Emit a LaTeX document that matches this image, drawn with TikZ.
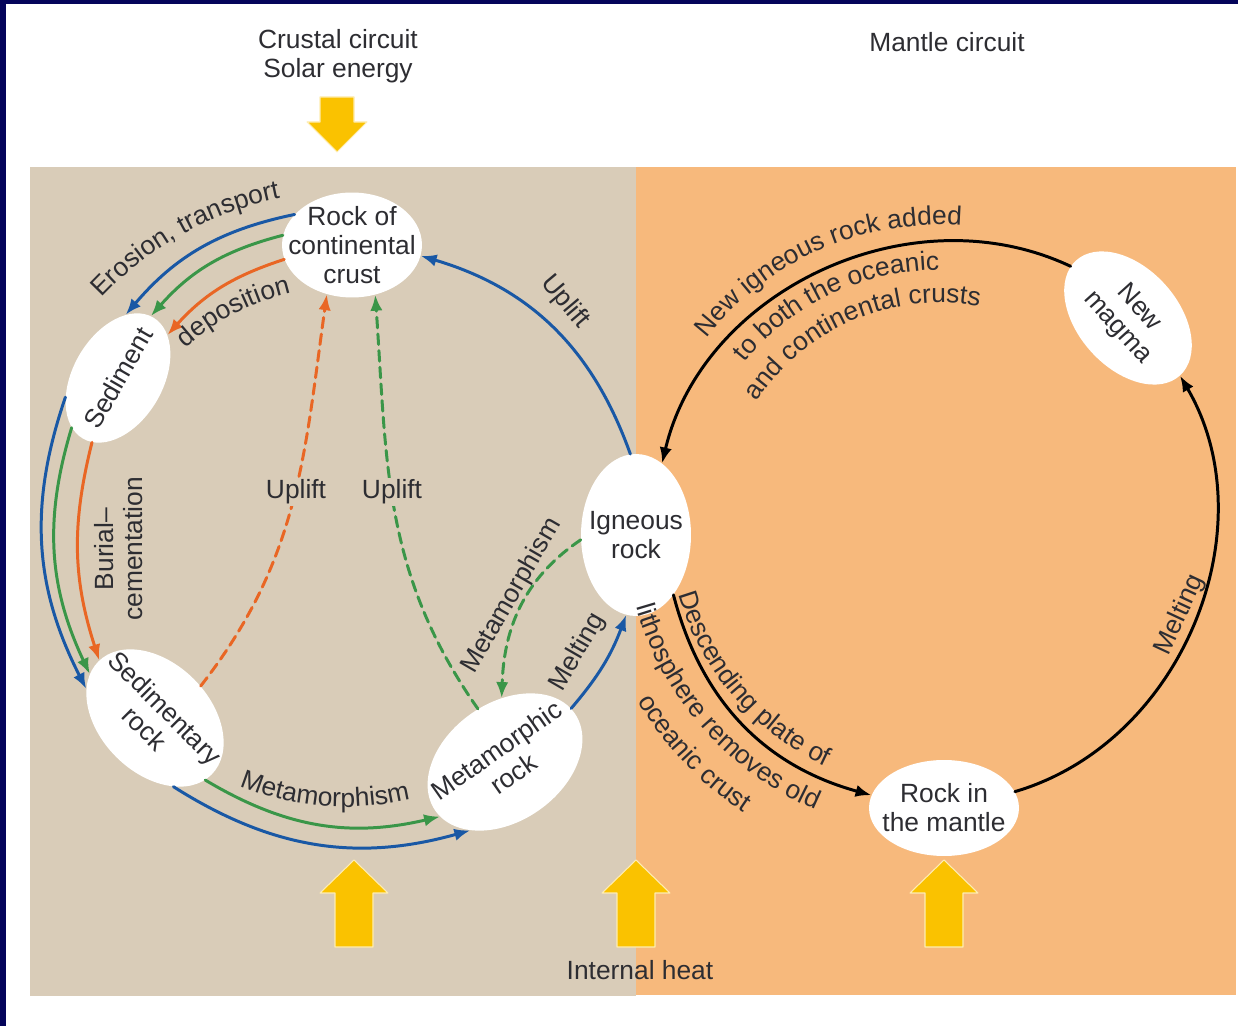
\documentclass[tikz,border=0pt]{standalone}
\usepackage{fontspec}
\setmainfont{Liberation Sans}
\usetikzlibrary{shapes.geometric,arrows.meta,decorations.text}
\definecolor{navy}{RGB}{4,4,90}
\definecolor{sand}{RGB}{217,204,184}
\definecolor{peach}{RGB}{247,185,124}
\definecolor{heat}{RGB}{250,194,0}
\definecolor{rblue}{RGB}{25,88,165}
\definecolor{rgreen}{RGB}{58,150,72}
\definecolor{rorange}{RGB}{233,102,36}
\definecolor{ink}{RGB}{45,45,50}
\newcommand{\lbl}{\fontsize{15}{16.5}\selectfont\color{ink}}
\tikzset{
  rock/.style={ellipse, fill=white, inner sep=0pt},
  flow/.style={line width=1.7pt, -{Latex[length=9pt,width=7pt]}},
  dflow/.style={flow, dash pattern=on 6pt off 3.5pt},
  heatarrow/.style={fill=heat, draw=white!70!heat, line width=0.6pt},
  lab/.style={text=ink, inner sep=1pt, align=center},
  curvelab/.style={decorate, decoration={text along path}},
}
\begin{document}
\begin{tikzpicture}[x=0.02cm, y=0.02cm, font=\fontsize{15}{16.5}\selectfont, line join=round, line cap=round]
	% Frame and the two panels
	\fill[navy] (0,0) rectangle (1238,-1026);
	\fill[white] (6,-4) rectangle (1238,-1026);
	\fill[sand] (30,-167) rectangle (636,-996);
	\fill[peach] (636,-167) rectangle (1236,-995);
	\useasboundingbox (0,0) rectangle (1238,-1026);
	% Headings
	\node[lab] (crustal) at (338,-56) {Crustal circuit\\Solar energy};
	\node[lab] (mantlec) at (947,-42) {Mantle circuit};
	\node[lab] (heat) at (640,-970) {Internal heat};
	% Energy arrows
	\fill[heatarrow] (320,-97) -- (354,-97) -- (354,-122) -- (367,-122) -- (337,-152) -- (307,-122) -- (320,-122) -- cycle;
	\foreach \x in {354,636,944}{\fill[heatarrow] (\x-19,-947) -- (\x+19,-947) -- (\x+19,-893) -- (\x+34,-893) -- (\x,-860) -- (\x-34,-893) -- (\x-19,-893) -- cycle;}
	% Rocks
	\node[rock, minimum width=2.8cm, minimum height=2.1cm] (crust) at (352,-245) {};
	\node[rock, rotate=60, minimum width=2.8cm, minimum height=1.8cm] (sed) at (118,-378) {};
	\node[rock, rotate=-45, minimum width=3.2cm, minimum height=2.2cm] (sedrock) at (155,-718) {};
	\node[rock, rotate=35, minimum width=3.4cm, minimum height=2.36cm] (meta) at (505,-762) {};
	\node[rock, minimum width=2.2cm, minimum height=3.24cm] (ign) at (636,-535) {};
	\node[rock, rotate=-48, minimum width=3.1cm, minimum height=2cm] (magma) at (1128,-318) {};
	\node[rock, minimum width=3cm, minimum height=1.92cm] (mantle) at (944,-808) {};
	\node[lab] at (crust) {Rock of\\continental\\crust};
	\node[lab, rotate=60] at (sed) {Sediment};
	\node[lab, rotate=-45] at (sedrock) {Sedimentary\\rock};
	\node[lab, rotate=35] at (meta) {Metamorphic\\rock};
	\node[lab] at (ign) {Igneous\\rock};
	\node[lab, rotate=-48] at (magma) {New\\magma};
	\node[lab] at (mantle) {Rock in\\the mantle};
	% Crustal circuit
	\draw[flow, rblue] (crust.152) to[bend right=19] (sed.23);
	\draw[flow, rgreen] (crust.172) to[bend right=17] (sed.2);
	\draw[flow, rorange] (crust.192) to[bend right=15] (sed.341);
	\draw[flow, rblue] (sed.140) to[bend right=23] (sedrock.202);
	\draw[flow, rgreen] (sed.167) to[bend right=21] (sedrock.191);
	\draw[flow, rorange] (sed.188) to[bend right=16] (sedrock.179);
	\draw[flow, rblue] (sedrock.330) to[bend right=24] (meta.208);
	\draw[flow, rgreen] (sedrock.354) to[bend right=22] (meta.185);
	\draw[flow, rblue] (meta.4) to[bend right=10] (ign.263);
	\draw[flow, rblue] (ign.94) to[bend right=27] (crust.351);
	\draw[dflow, rgreen] (ign.185) to[out=214, in=88] (meta.58);
	\draw[dflow, rorange] (sedrock.80) to[out=52, in=-98] (crust.243);
	\draw[dflow, rgreen] (meta.82) to[out=125, in=-86] (crust.295);
	% Mantle circuit
	\draw[flow, black] (magma.186) to[bend right=51] (ign.70);
	\draw[flow, black] (mantle.13) to[bend right=52] (magma.0);
	\draw[flow, black] (ign.302) to[bend right=30] (mantle.170);
	% Straight labels
	\node[lab, rotate=90] (burial) at (119,-549) {Burial--\\cementation};
	\node[lab, fill=sand] (upl1) at (296,-492) {Uplift};
	\node[lab, fill=sand] (upl2) at (392,-492) {Uplift};
	\node[lab, rotate=-50] (upl3) at (565,-302) {Uplift};
	\node[lab, rotate=60] (meta1) at (512,-596) {Metamorphism};
	\node[lab, rotate=60] (melt1) at (578,-652) {Melting};
	\node[lab, rotate=65] (melt2) at (1180,-615) {Melting};
	% Curved labels
	\coordinate (cl) at (345,-525);
	\coordinate (cr) at (939,-520);
	\path[curvelab, decoration={text={|\lbl|Erosion, transport}}] ([shift={(137:333)}]cl) arc[start angle=137, end angle=80, radius=333];
	\path[curvelab, decoration={text={|\lbl|deposition}}] ([shift={(132:238)}]cl) arc[start angle=132, end angle=90, radius=238];
	\path[curvelab, decoration={text={|\lbl|Metamorphism}}] ([shift={(248:282)}]cl) arc[start angle=248, end angle=300, radius=282];
	\path[curvelab, decoration={text={|\lbl|New igneous rock added}}] ([shift={(142:295)}]cr) arc[start angle=142, end angle=70, radius=295];
	\path[curvelab, decoration={text={|\lbl|to both the oceanic}}] ([shift={(141:250)}]cr) arc[start angle=141, end angle=70, radius=250];
	\path[curvelab, decoration={text={|\lbl|and continental crusts}}] ([shift={(147:217)}]cr) arc[start angle=147, end angle=60, radius=217];
	\path[curvelab, decoration={text={|\lbl|Descending plate of}}] ([shift={(196:271)}]cr) arc[start angle=196, end angle=260, radius=271];
	\path[curvelab, decoration={text={|\lbl|lithosphere removes old}}] ([shift={(196:315)}]cr) arc[start angle=196, end angle=265, radius=315];
	\path[curvelab, decoration={text={|\lbl|oceanic crust}}] ([shift={(211:352)}]cr) arc[start angle=211, end angle=250, radius=352];
\end{tikzpicture}
\end{document}
